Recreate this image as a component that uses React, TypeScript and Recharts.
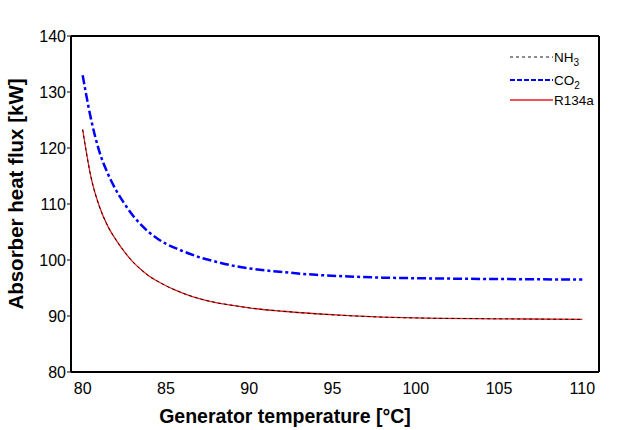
import { Label, Legend, Line, LineChart, XAxis, YAxis } from 'recharts';

// generator temperature [°C]
const TEMPS = [80, 80.5, 81, 81.5, 82, 82.5, 83, 83.5, 84, 84.5, 85, 85.5, 86, 87, 88, 89, 90, 92, 94, 96, 98, 100, 105, 110];

// absorber heat flux [kW]
const NH3 = [123.3, 114.8, 109.6, 106.1, 103.6, 101.5, 99.7, 98.3, 97.1, 96.2, 95.4, 94.7, 94.1, 93.1, 92.4, 91.9, 91.45, 90.85, 90.4, 90.05, 89.8, 89.65, 89.5, 89.4];
const CO2 = [133.0, 125.2, 119.4, 115.5, 112.5, 110.1, 108.0, 106.3, 104.9, 103.8, 102.9, 102.2, 101.6, 100.5, 99.7, 99.0, 98.5, 97.85, 97.35, 97.05, 96.85, 96.75, 96.6, 96.5];
const R134A = [123.3, 114.8, 109.6, 106.1, 103.6, 101.5, 99.7, 98.3, 97.1, 96.2, 95.4, 94.7, 94.1, 93.1, 92.4, 91.9, 91.45, 90.85, 90.4, 90.05, 89.8, 89.65, 89.5, 89.4];

const X_TICKS = [80, 85, 90, 95, 100, 105, 110];
const X_MINOR = [80, 82.5, 85, 87.5, 90, 92.5, 95, 97.5, 100, 102.5, 105, 107.5, 110];
const Y_TICKS = [80, 90, 100, 110, 120, 130, 140];
const LEGEND_ORDER = ['nh3', 'co2', 'r134a'];

const X_DOMAIN: [number, number] = [79.3, 111];
const Y_DOMAIN: [number, number] = [80, 140];

const FONT = "'Liberation Sans', Arial, sans-serif";

const SERIES = {
  nh3: { color: '#000000', width: 0.9, dash: '3 3' },
  co2: { color: '#0000ff', width: 2.5, dash: '9 3 3 3' },
  r134a: { color: '#ee1c1c', width: 1.3, dash: undefined },
};

const data = TEMPS.map((t, i) => ({
  t,
  nh3: NH3[i],
  co2: CO2[i],
  r134a: R134A[i],
}));

function LegendBox() {
  const rows: Record<string, { y: number; label: React.ReactNode }> = {
    nh3: {
      y: 12,
      label: (
        <>
          NH<tspan dy={4} fontSize={10}>3</tspan>
        </>
      ),
    },
    co2: {
      y: 35,
      label: (
        <>
          CO<tspan dy={4} fontSize={10}>2</tspan>
        </>
      ),
    },
    r134a: { y: 55, label: 'R134a' },
  };
  return (
    <svg width={100} height={70} style={{ display: 'block' }}>
      {LEGEND_ORDER.map((key) => {
        const s = SERIES[key as keyof typeof SERIES];
        const row = rows[key];
        return (
          <g key={key}>
            <line
              x1={10}
              x2={53}
              y1={row.y}
              y2={row.y}
              stroke={s.color}
              strokeWidth={key === 'co2' ? 2 : s.width}
              strokeDasharray={key === 'co2' ? '5 2' : s.dash}
            />
            <text x={54} y={row.y + 5} fontSize={13.5} fontFamily={FONT} fill="#000">
              {row.label}
            </text>
          </g>
        );
      })}
    </svg>
  );
}

export default function App() {
  const tickStyle = { fill: '#000', fontSize: 16, fontFamily: FONT };
  return (
    <div style={{ position: 'absolute', left: 0, top: 0, background: '#fff' }}>
      <LineChart
        width={640}
        height={430}
        data={data}
        margin={{ top: 36, right: 41, left: 0, bottom: 0 }}
      >
        <XAxis
          xAxisId="b"
          dataKey="t"
          type="number"
          domain={X_DOMAIN}
          allowDataOverflow
          ticks={X_TICKS}
          height={58}
          tickSize={0}
          tickMargin={11}
          tick={tickStyle}
          axisLine={{ stroke: '#000', strokeWidth: 2 }}
        >
          <Label
            content={() => (
              <text
                x={285}
                y={423}
                textAnchor="middle"
                fontFamily={FONT}
                fontWeight="bold"
                fontSize={19.5}
                fill="#000"
              >
                Generator temperature [°C]
              </text>
            )}
          />
        </XAxis>
        <XAxis
          xAxisId="bm"
          dataKey="t"
          type="number"
          orientation="bottom"
          mirror
          domain={X_DOMAIN}
          allowDataOverflow
          ticks={X_MINOR}
          tick={false}
          tickSize={4}
          tickLine={{ stroke: '#000' }}
          axisLine={false}
        />
        <XAxis
          xAxisId="t"
          dataKey="t"
          type="number"
          orientation="top"
          mirror
          domain={X_DOMAIN}
          allowDataOverflow
          ticks={X_MINOR}
          tick={false}
          tickSize={4}
          tickLine={{ stroke: '#000' }}
          axisLine={{ stroke: '#000', strokeWidth: 2 }}
        />
        <YAxis
          yAxisId="l"
          type="number"
          domain={Y_DOMAIN}
          allowDataOverflow
          ticks={Y_TICKS}
          width={71}
          tickSize={4}
          tickMargin={1}
          tick={tickStyle}
          tickLine={{ stroke: '#000' }}
          axisLine={{ stroke: '#000', strokeWidth: 2 }}
        >
          <Label
            content={() => (
              <text
                x={15}
                y={194}
                transform="rotate(-90 15 194)"
                textAnchor="middle"
                dominantBaseline="central"
                fontFamily={FONT}
                fontWeight="bold"
                fontSize={20.5}
                fill="#000"
              >
                Absorber heat flux [kW]
              </text>
            )}
          />
        </YAxis>
        <YAxis
          yAxisId="r"
          type="number"
          orientation="right"
          mirror
          domain={Y_DOMAIN}
          allowDataOverflow
          ticks={Y_TICKS}
          tick={false}
          tickSize={4}
          tickLine={{ stroke: '#000' }}
          axisLine={{ stroke: '#000', strokeWidth: 2 }}
        />
        <Legend
          layout="horizontal"
          verticalAlign="middle"
          align="center"
          content={() => <LegendBox />}
          wrapperStyle={{ top: 45, left: 500, width: 100, height: 70 }}
        />
        <Line
          xAxisId="b"
          yAxisId="l"
          dataKey="co2"
          name="CO2"
          type="monotone"
          stroke={SERIES.co2.color}
          strokeWidth={SERIES.co2.width}
          strokeDasharray={SERIES.co2.dash}
          dot={false}
          activeDot={false}
          isAnimationActive={false}
        />
        <Line
          xAxisId="b"
          yAxisId="l"
          dataKey="r134a"
          name="R134a"
          type="monotone"
          stroke={SERIES.r134a.color}
          strokeWidth={SERIES.r134a.width}
          dot={false}
          activeDot={false}
          isAnimationActive={false}
        />
        <Line
          xAxisId="b"
          yAxisId="l"
          dataKey="nh3"
          name="NH3"
          type="monotone"
          stroke={SERIES.nh3.color}
          strokeWidth={SERIES.nh3.width}
          strokeDasharray={SERIES.nh3.dash}
          dot={false}
          activeDot={false}
          isAnimationActive={false}
        />
      </LineChart>
    </div>
  );
}
